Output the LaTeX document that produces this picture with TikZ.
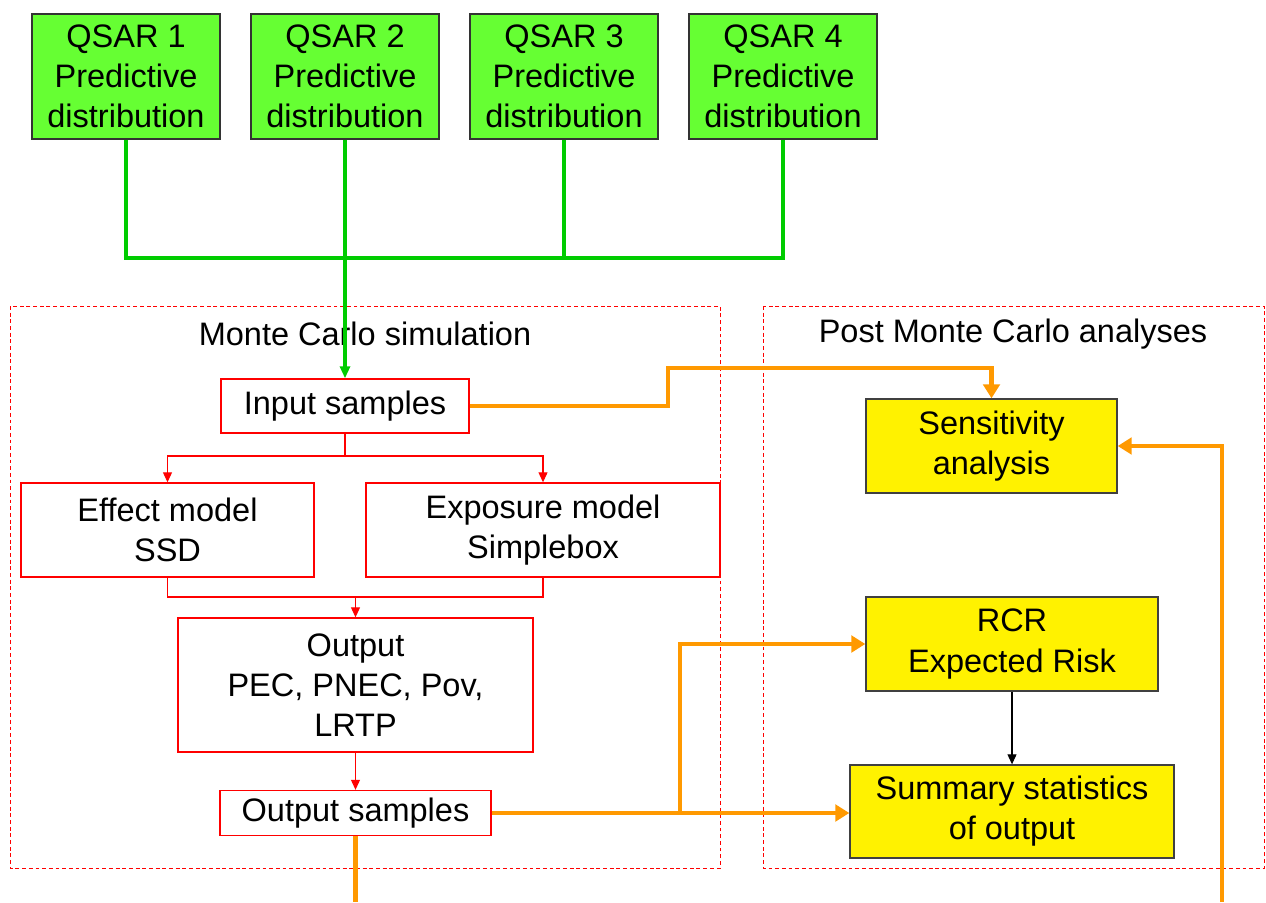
\documentclass[tikz,border=0pt]{standalone}
\usepackage{fontspec}
\setmainfont{Liberation Sans}
\usetikzlibrary{arrows.meta}
\definecolor{qsargreen}{RGB}{102,255,51}
\definecolor{linegreen}{RGB}{0,204,0}
\definecolor{flow}{RGB}{255,153,0}
\begin{document}
\begin{tikzpicture}[x=0.02cm, y=-0.02cm,
    every node/.style={font=\fontsize{18.5}{22.8}\selectfont, align=center, inner sep=0pt},
    qsar/.style={draw=black!80, fill=qsargreen, line width=0.7pt, minimum width=3.76cm, minimum height=2.5cm},
    mcbox/.style={draw=red, fill=white, line width=0.8pt},
    postbox/.style={draw=black!75, fill=yellow, line width=0.8pt},
    area/.style={draw=red, line width=0.5pt, dash pattern=on 2.2pt off 1.6pt},
    greenline/.style={draw=linegreen, line width=2pt},
    redline/.style={draw=red, line width=0.6pt},
    redarrow/.style={redline, -{Triangle[length=2mm, width=1.8mm]}},
    orangeline/.style={draw=flow, line width=2.8pt},
    orangearrow/.style={orangeline, -{Triangle[length=2.8mm, width=3.3mm]}},
    blackarrow/.style={draw=black, line width=0.6pt, -{Triangle[length=2mm, width=1.8mm]}}
]
\useasboundingbox (0,0) rectangle (1266,902);

% dashed areas
\draw[area] (10,306) rectangle (720,868);
\draw[area] (763,306) rectangle (1264,868);
\node (mclabel) at (365,334) {Monte Carlo simulation};
\node (postlabel) at (1013,334) {Post Monte Carlo analyses};

% helper levels
\coordinate (bus) at (0,258);
\coordinate (split) at (0,456);
\coordinate (merge) at (0,597);
\coordinate (branch) at (680,0);
\coordinate (bottom) at (0,902);
\coordinate (riseA) at (668,368);
\coordinate (feed) at (1222,902);

% QSAR inputs
\foreach \i/\x in {1/126,2/345,3/564,4/783}
  \node[qsar] (q\i) at (\x,76.5) {QSAR \i\\Predictive\\distribution};

% Monte Carlo boxes
\node[mcbox, minimum width=4.96cm, minimum height=1.08cm] (input) at (345,406) {Input samples};
\node[mcbox, minimum width=5.86cm, minimum height=1.88cm] (effect) at (167.5,530) {Effect model\\SSD};
\node[mcbox, minimum width=7.08cm, minimum height=1.88cm] (exposure) at (543,530) {Exposure model\\Simplebox};
\node[mcbox, minimum width=7.1cm, minimum height=2.68cm] (output) at (355.5,685) {Output\\PEC, PNEC, Pov,\\LRTP};
\node[mcbox, minimum width=5.42cm, minimum height=0.9cm] (outsamples) at (355.5,813) {Output samples};

% post analyses
\node[postbox, minimum width=5.02cm, minimum height=1.88cm] (sens) at (991.5,446) {Sensitivity\\analysis};
\node[postbox, minimum width=5.84cm, minimum height=1.88cm] (rcr) at (1012,644) {RCR\\Expected Risk};
\node[postbox, minimum width=6.48cm, minimum height=1.86cm] (summary) at (1012,811.5) {Summary statistics\\of output};

% green connectors
\draw[greenline] (q1.south) |- (q4.south |- bus) -- (q4.south);
\draw[greenline] (q3.south) -- (q3.south |- bus);
\draw[greenline, -{Triangle[length=2.4mm, width=2mm]}] (q2.south) -- (input.north);

% red connectors
\draw[redline] (input.south) -- (input.south |- split);
\draw[redarrow] (input.south |- split) -| (effect.north);
\draw[redarrow] (input.south |- split) -| (exposure.north);
\draw[redline] (effect.south) |- (exposure.south |- merge) -- (exposure.south);
\draw[redarrow] (output.north |- merge) -- (output.north);
\draw[redarrow] (output.south) -- (outsamples.north);

% orange connectors
\draw[orangearrow] (input.east) -| (riseA) -| (sens.north);
\draw[orangearrow] (feed) |- (sens.east);
\draw[orangearrow] (outsamples.east) -- (summary.west |- outsamples.east);
\draw[orangearrow] (outsamples.east -| branch) |- (rcr.west);
\draw[orangeline] (outsamples.south) -- (outsamples.south |- bottom);

% black connector
\draw[blackarrow] (rcr.south) -- (summary.north);

\end{tikzpicture}
\end{document}
